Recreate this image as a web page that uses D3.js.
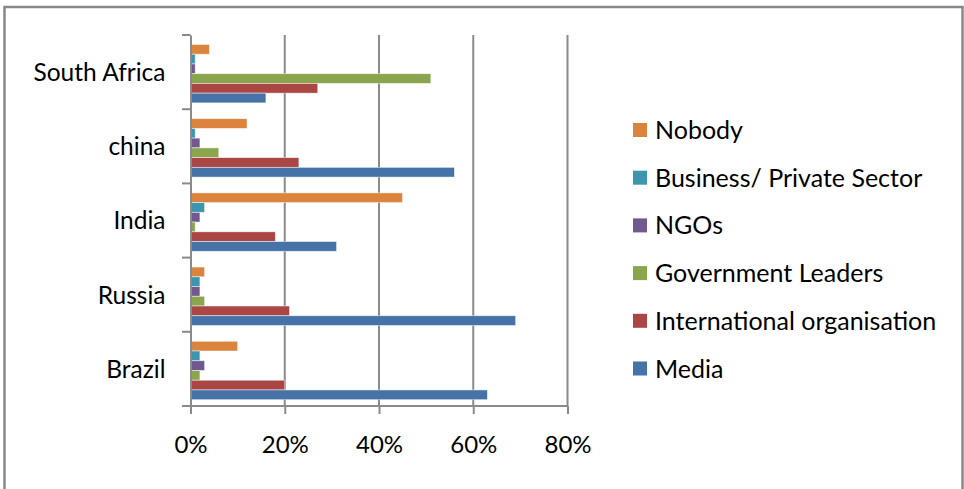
<!DOCTYPE html>
<html>
<head>
<meta charset="utf-8">
<script src="https://cdn.jsdelivr.net/npm/d3@7"></script>
<style>
  html, body { margin: 0; padding: 0; background: #fff; }
  svg text { font-family: Lato, "Open Sans", sans-serif; fill: #000; }
</style>
</head>
<body>
<svg id="chart" width="964" height="489"></svg>
<script>
// ---- data ----
const categories = ["South Africa", "china", "India", "Russia", "Brazil"];
const series = ["Nobody", "Business/ Private Sector", "NGOs", "Government Leaders", "International organisation", "Media"];
const colors = ["#DB843D", "#3D96AE", "#71588F", "#89A54E", "#AA4643", "#4572A7"];
const nobody        = [4, 12, 45, 3, 10];
const business      = [1, 1, 3, 2, 2];
const ngos          = [1, 2, 2, 2, 3];
const government    = [51, 6, 1, 3, 2];
const international = [27, 23, 18, 21, 20];
const media         = [16, 56, 31, 69, 63];
const xTicks = [0, 20, 40, 60, 80];

const values = [nobody, business, ngos, government, international, media];

const svg = d3.select("#chart");

// outer frame
svg.append("rect")
  .attr("x", 4.5).attr("y", 7).attr("width", 958).attr("height", 520)
  .attr("fill", "#fff").attr("stroke", "#888").attr("stroke-width", 2.5);

const x = d3.scaleLinear().domain([0, 80]).range([190.5, 567.5]);
const y0 = d3.scaleBand().domain(categories).range([35, 406]).paddingInner(0).paddingOuter(0);
const y1 = d3.scaleBand().domain(series).range([0, y0.bandwidth()]).paddingInner(0).paddingOuter(0.81).align(0.6);

const gridColor = "#8a8a8a";

// gridlines
svg.append("g").selectAll("line").data(xTicks.slice(1)).join("line")
  .attr("x1", d => x(d)).attr("x2", d => x(d))
  .attr("y1", 35).attr("y2", 406)
  .attr("stroke", gridColor).attr("stroke-width", 2);

// bars
const groups = svg.append("g").selectAll("g").data(categories).join("g")
  .attr("transform", c => `translate(0,${y0(c)})`);

groups.selectAll("rect")
  .data((c, ci) => series.map((s, si) => ({ s, si, v: values[si][ci] })))
  .join("rect")
  .attr("x", x(0))
  .attr("y", d => y1(d.s))
  .attr("width", d => x(d.v) - x(0))
  .attr("height", y1.bandwidth())
  .attr("fill", d => colors[d.si])
  .attr("stroke", "rgba(255,255,255,0.6)")
  .attr("stroke-width", 0.8);

// y axis
const yAxis = d3.axisLeft(y0).tickSize(0).tickPadding(25).tickFormat(d => d);
const yG = svg.append("g").attr("transform", `translate(${x(0)},0)`).call(yAxis);
yG.select(".domain").attr("stroke", gridColor).attr("stroke-width", 2);
yG.selectAll("text").style("font-size", "24.5px").attr("fill", "#000").attr("dy", "0.36em");
// category boundary tick marks
const bounds = categories.map(c => y0(c)).concat([406]);
svg.append("g").selectAll("line").data(bounds).join("line")
  .attr("x1", 182).attr("x2", x(0)).attr("y1", d => d).attr("y2", d => d)
  .attr("stroke", gridColor).attr("stroke-width", 2);

// x axis
const xAxis = d3.axisBottom(x).tickValues(xTicks).tickSize(8).tickPadding(22).tickFormat(d => d + "%");
const xG = svg.append("g").attr("transform", "translate(0,406)").call(xAxis);
xG.select(".domain").attr("d", `M${x(0)},0H${x(80)}`).attr("stroke", gridColor).attr("stroke-width", 2);
xG.selectAll(".tick line").attr("stroke", gridColor).attr("stroke-width", 2);
xG.selectAll("text").style("font-size", "24px").attr("fill", "#000");

// legend
const legend = svg.append("g").selectAll("g").data(series).join("g")
  .attr("transform", (d, i) => `translate(633,${130 + i * 47.7})`);
legend.append("rect").attr("x", 0).attr("y", -7).attr("width", 14).attr("height", 14)
  .attr("fill", (d, i) => colors[i]);
legend.append("text").attr("x", 22).attr("y", 0).attr("dy", "0.36em")
  .style("font-size", "25px").text(d => d);
</script>
</body>
</html>
